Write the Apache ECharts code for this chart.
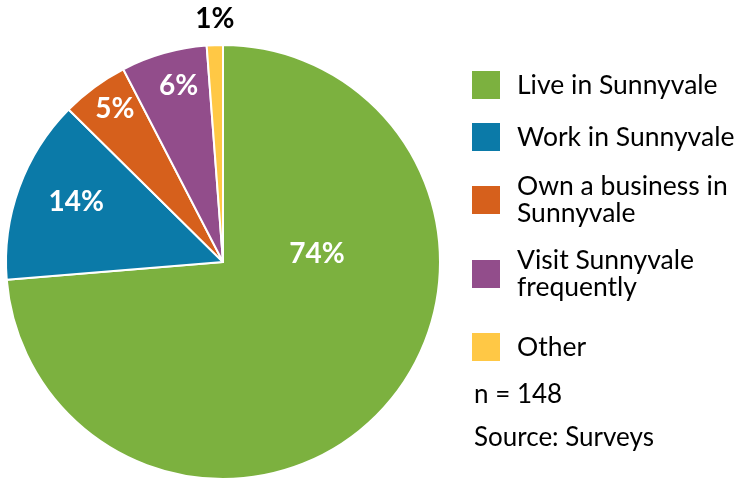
<!DOCTYPE html>
<html><head><meta charset="utf-8">
<script src="https://cdn.jsdelivr.net/npm/echarts@6/dist/echarts.min.js"></script>
<style>html,body{margin:0;padding:0;background:#fff}#c{width:739px;height:478px}</style>
</head><body><div id="c"></div>
<script>
const categories = ['Live in Sunnyvale', 'Work in Sunnyvale', 'Own a business in\nSunnyvale', 'Visit Sunnyvale\nfrequently', 'Other'];
const values = [73.7, 13.7, 5.0, 6.4, 1.2];
const valueLabels = ['74%', '14%', '5%', '6%', '1%'];
const colors = ['#7CB13F', '#0B7AA8', '#D6601C', '#924D8B', '#FFC845'];
const labelOffsets = [[12, -84], [-42, -22], [-42, -63], [-14, -69], [-4, -132]];
const labelColors = ['#fff', '#fff', '#fff', '#fff', '#000'];
const notes = ['n = 148', 'Source: Surveys'];

const FONT = 'Lato';
const chart = echarts.init(document.getElementById('c'), null, {renderer: 'canvas'});
const data = categories.map((n, i) => ({
  name: n, value: values[i],
  itemStyle: {color: colors[i]},
  label: {offset: labelOffsets[i], color: labelColors[i], formatter: valueLabels[i]}
}));
const legendBase = {
  orient: 'vertical', left: 465, itemWidth: 30, itemHeight: 30, itemGap: 20,
  icon: 'rect', selectedMode: false,
  textStyle: {fontFamily: FONT, fontSize: 26.5, color: '#000', lineHeight: 27, padding: [0, 0, 0, 11]}
};
chart.setOption({
  animation: false,
  legend: [
    Object.assign({}, legendBase, {top: 64, data: categories.slice(0, 4)}),
    Object.assign({}, legendBase, {top: 326, data: categories.slice(4)})
  ],
  graphic: notes.map((t, i) => ({
    type: 'text', x: 474, y: 395 + i * 43,
    style: {text: t, fontFamily: FONT, fontSize: 26, fill: '#000', verticalAlign: 'middle'}
  })),
  series: [{
    type: 'pie', center: [223, 262], radius: 217, startAngle: 90, clockwise: true,
    avoidLabelOverlap: false,
    itemStyle: {borderColor: '#fff', borderWidth: 2},
    label: {show: true, position: 'inside', fontFamily: FONT, fontWeight: 'bold', fontSize: 28},
    labelLine: {show: false},
    emphasis: {disabled: true},
    data: data
  }]
});
</script></body></html>
